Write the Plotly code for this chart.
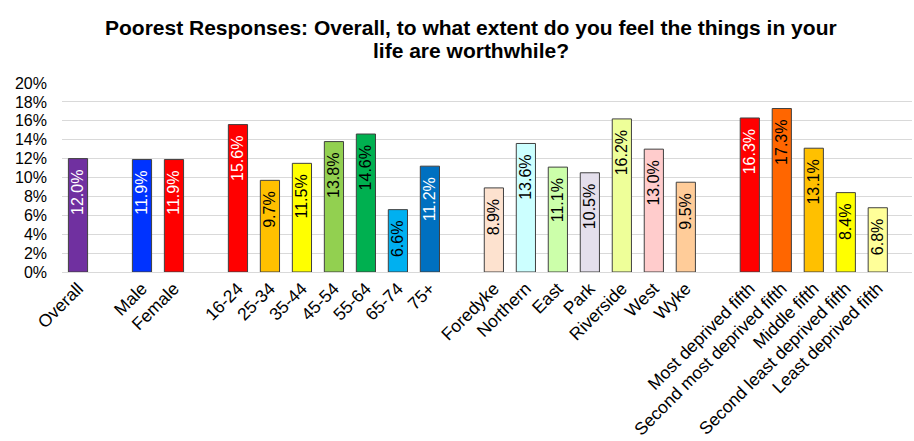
import plotly.graph_objects as go

# Groups of categories, drawn left to right with a blank slot between groups
overall_labels = ["Overall"]
overall_values = [12.0]

gender_labels = ["Male", "Female"]
gender_values = [11.9, 11.9]

age_labels = ["16-24", "25-34", "35-44", "45-54", "55-64", "65-74", "75+"]
age_values = [15.6, 9.7, 11.5, 13.8, 14.6, 6.6, 11.2]

area_labels = ["Foredyke", "Northern", "East", "Park", "Riverside", "West", "Wyke"]
area_values = [8.9, 13.6, 11.1, 10.5, 16.2, 13.0, 9.5]

imd_labels = ["Most deprived fifth", "Second most deprived fifth", "Middle fifth",
              "Second least deprived fifth", "Least deprived fifth"]
imd_values = [16.3, 17.3, 13.1, 8.4, 6.8]

y_ticks = [0, 2, 4, 6, 8, 10, 12, 14, 16, 18, 20]
y_tick_labels = [f"{t}%" for t in y_ticks]

title_lines = ["Poorest Responses: Overall, to what extent do you feel the things in your",
               "life are worthwhile?"]

# Styling per bar
bar_colors = [
    "#7030A0",
    "#0033FF", "#FF0000",
    "#FF0000", "#FFC000", "#FFFF00", "#92D050", "#00B050", "#00B0F0", "#0070C0",
    "#FDE2CF", "#CCFFFF", "#CCFFAA", "#E4DFEC", "#EEFF99", "#FFCCCC", "#FFCC99",
    "#FF0000", "#FF6600", "#FFC000", "#FFFF00", "#FFFF99",
]
text_colors = [
    "white",
    "white", "white",
    "white", "black", "black", "black", "black", "black", "white",
    "black", "black", "black", "black", "black", "black", "black",
    "white", "black", "black", "black", "black",
]

groups = [
    (overall_labels, overall_values),
    (gender_labels, gender_values),
    (age_labels, age_values),
    (area_labels, area_values),
    (imd_labels, imd_values),
]

xs, labels, values = [], [], []
pos = 0
for labs, vals in groups:
    for lab, val in zip(labs, vals):
        xs.append(pos)
        labels.append(lab)
        values.append(val)
        pos += 1
    pos += 1  # blank slot between groups
last_pos = xs[-1]

FONT = "Liberation Sans, Arial, sans-serif"
TITLE_FONT = dict(family=FONT, size=21, color="black", weight="bold")

fig = go.Figure(
    go.Bar(
        x=xs,
        y=values,
        width=0.6,
        marker=dict(color=bar_colors, line=dict(color="#404040", width=1)),
        text=[f"{v:.1f}%\u2002" for v in values],
        textposition="inside",
        insidetextanchor="end",
        textangle=-90,
        constraintext="none",
        textfont=dict(family=FONT, size=16, color=text_colors),
        hoverinfo="skip",
    )
)

# Two-line heading with tight line spacing
for i, line in enumerate(title_lines):
    fig.add_annotation(
        text=line,
        xref="paper", yref="paper",
        x=(471 - 62) / (914 - 62 - 2),
        y=1,
        xanchor="center", yanchor="middle",
        yshift=(83 - 27) - i * 23.5,
        showarrow=False,
        font=TITLE_FONT,
    )

fig.update_layout(
    width=914,
    height=441,
    margin=dict(l=62, r=2, t=83, b=169),
    paper_bgcolor="white",
    plot_bgcolor="white",
    showlegend=False,
    xaxis=dict(
        range=[-0.5, last_pos + 1.07],
        tickmode="array",
        tickvals=xs,
        ticktext=labels,
        tickangle=-45,
        tickfont=dict(family=FONT, size=17.5, color="black"),
        showgrid=False,
        showline=False,
        zeroline=False,
        ticks="",
        ticklabelstandoff=2,
        automargin=False,
    ),
    yaxis=dict(
        range=[0, 20],
        tickmode="array",
        tickvals=y_ticks,
        ticktext=y_tick_labels,
        tickfont=dict(family=FONT, size=16, color="black"),
        showgrid=True,
        gridcolor="#D9D9D9",
        gridwidth=1,
        zeroline=True,
        zerolinecolor="#D9D9D9",
        zerolinewidth=1,
        showline=False,
        ticks="",
        ticklabelstandoff=14,
        automargin=False,
    ),
)

fig.write_html("out.html")
